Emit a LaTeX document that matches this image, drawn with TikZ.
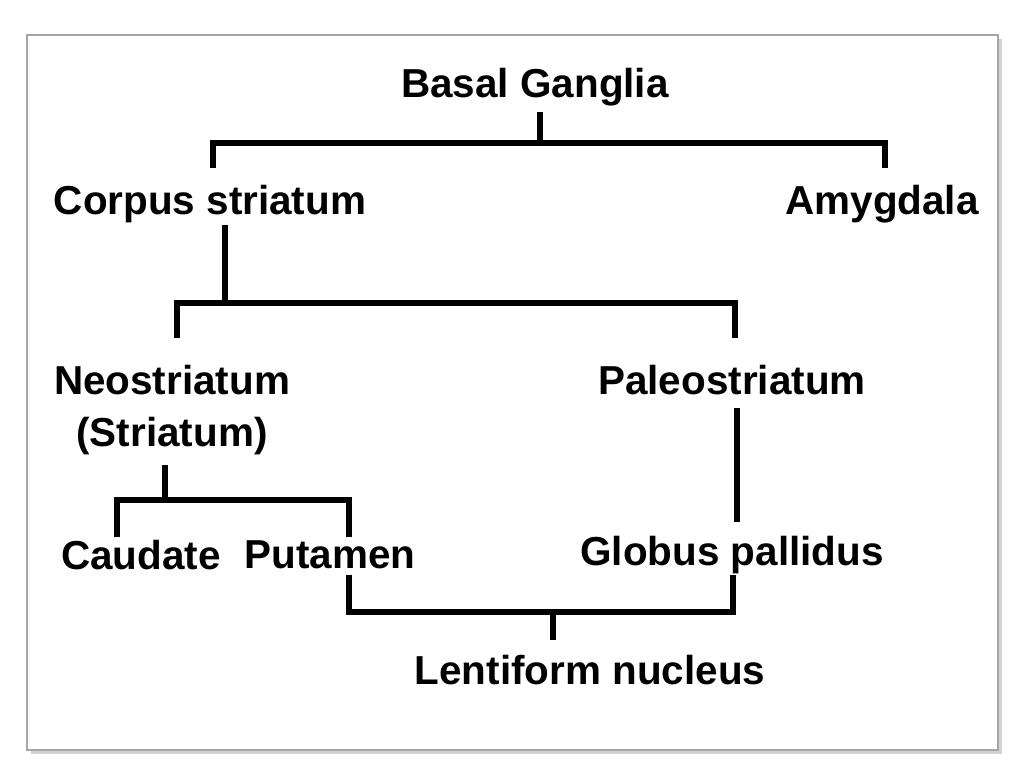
\documentclass[tikz,border=0pt]{standalone}
\usepackage{fontspec}
\setmainfont{Liberation Sans}
\begin{document}
\begin{tikzpicture}[x=0.01cm,y=-0.01cm,
  term/.style={font=\bfseries\fontsize{11.5}{15}\selectfont, inner sep=1pt, align=center},
  branch/.style={line width=1.6pt}]
% Frame
\useasboundingbox (0,0) rectangle (1024,768);
\fill[gray!35] (31,39) rectangle (1002,754);
\draw[gray!70, fill=white] (27,35) rectangle (998,750);

% Terms
\node[term] (bg) at (535,87) {Basal Ganglia};
\node[term] (cs) at (210,204) {Corpus striatum};
\node[term] (am) at (882,204) {Amygdala};
\node[term] (ns) at (172,410) {Neostriatum\\(Striatum)};
\node[term] (ps) at (732,380) {Paleostriatum};
\node[term] (ca) at (141,555) {Caudate};
\node[term] (pu) at (330,555) {Putamen};
\node[term] (gp) at (732,555) {Globus pallidus};
\node[term] (ln) at (590,670) {Lentiform nucleus};

% Branches
\coordinate (j1) at (540,143);
\draw[branch] (540,112) -- (j1);
\draw[branch] (213,168) |- (j1) -| (885,168);

\coordinate (j2) at (225,303);
\draw[branch] (225,225) -- (j2);
\draw[branch] (177,338) |- (j2) -| (735,338);

\coordinate (j3) at (165,500);
\draw[branch] (165,465) -- (j3);
\draw[branch] (117,537) |- (j3) -| (349,537);

\draw[branch] (737,408) -- (737,522);

\coordinate (j4) at (553,612);
\draw[branch] (349,575) |- (j4) -| (733,575);
\draw[branch] (j4) -- (553,640);
\end{tikzpicture}
\end{document}
